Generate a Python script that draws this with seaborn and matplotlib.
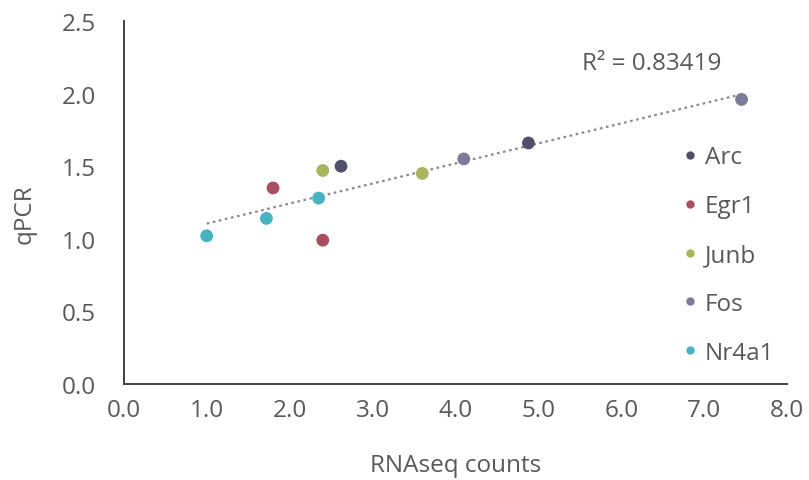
import numpy as np
import pandas as pd
import seaborn as sns
import matplotlib.pyplot as plt

genes = ['Arc', 'Arc', 'Egr1', 'Egr1', 'Junb', 'Junb', 'Fos', 'Fos', 'Nr4a1', 'Nr4a1', 'Nr4a1']
rnaseq = [2.62, 4.88, 1.80, 2.40, 2.40, 3.60, 4.10, 7.45, 1.00, 1.72, 2.35]
qpcr = [1.50, 1.66, 1.35, 0.99, 1.47, 1.45, 1.55, 1.96, 1.02, 1.14, 1.28]
gene_order = ['Arc', 'Egr1', 'Junb', 'Fos', 'Nr4a1']
gene_colors = ['#50506a', '#a8505f', '#a9b45c', '#7c7c98', '#48b2c2']
r2_label = 'R\u00b2 = 0.83419'

df = pd.DataFrame({'gene': genes, 'RNAseq': rnaseq, 'qPCR': qpcr})

sns.set_style('white')
plt.rcParams['font.family'] = ['Open Sans', 'DejaVu Sans']
text_col = '#595959'
fs = 17.5

fig = plt.figure(figsize=(8.09, 4.81), dpi=100)
ax = fig.add_axes([0.153, 0.2, 0.82, 0.754])

# trend line through all points
sns.regplot(data=df, x='RNAseq', y='qPCR', scatter=False, ci=None, ax=ax,
            line_kws=dict(color='#8a8a8a', linestyle=(0, (1.2, 1.6)), linewidth=1.6))

sns.scatterplot(data=df, x='RNAseq', y='qPCR', hue='gene', hue_order=gene_order,
                palette=gene_colors, s=85, edgecolor='none', ax=ax, zorder=3)

ax.set_xlim(0, 8)
ax.set_ylim(0, 2.5)
ax.set_xticks(np.arange(0, 8.01, 1.0))
ax.set_yticks(np.arange(0, 2.51, 0.5))
ax.xaxis.set_major_formatter(plt.FormatStrFormatter('%.1f'))
ax.yaxis.set_major_formatter(plt.FormatStrFormatter('%.1f'))
ax.tick_params(axis='both', length=0, labelsize=fs, colors=text_col)
ax.tick_params(axis='x', pad=10)
ax.tick_params(axis='y', pad=20)

for s in ['top', 'right']:
    ax.spines[s].set_visible(False)
for s in ['left', 'bottom']:
    ax.spines[s].set_color('#404040')
    ax.spines[s].set_linewidth(1.4)

ax.set_xlabel('RNAseq counts', fontsize=fs, color=text_col)
ax.set_ylabel('qPCR', fontsize=fs, color=text_col)
ax.xaxis.set_label_coords(0.5, -0.19)
ax.yaxis.set_label_coords(-0.132, 0.47)

ax.text(6.37, 2.21, r2_label, fontsize=fs, color=text_col, ha='center', va='center')

leg = ax.legend(loc='upper left', bbox_to_anchor=(0.824, 0.684), frameon=False,
                fontsize=fs, labelspacing=1.02, handlelength=0.8, handletextpad=0.22,
                borderaxespad=0, markerscale=0.65)
for t in leg.get_texts():
    t.set_color(text_col)

fig.savefig('out.png', dpi=100)
